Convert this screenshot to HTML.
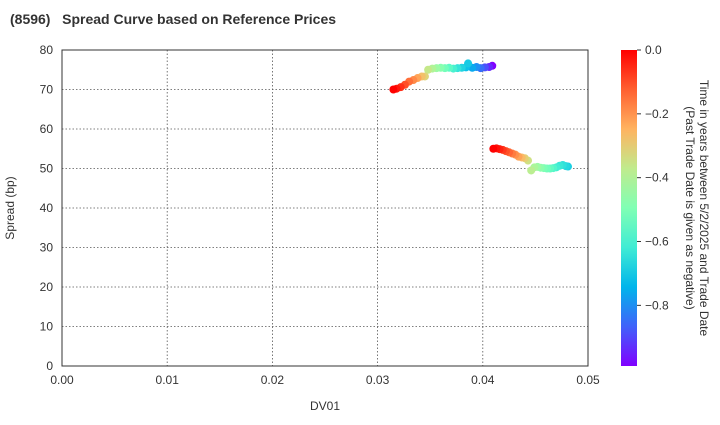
<!DOCTYPE html>
<html><head><meta charset="utf-8"><style>
body{margin:0;background:#fff;font-family:"Liberation Sans",Arial,sans-serif}
svg text{font-family:"Liberation Sans",Arial,sans-serif;fill:#333}
</style></head><body>
<svg id="c" width="720" height="420" xmlns="http://www.w3.org/2000/svg">
<defs><linearGradient id="cb" x1="0" y1="1" x2="0" y2="0">
<stop offset="0" stop-color="#8000ff"/><stop offset="0.125" stop-color="#4062fa"/><stop offset="0.25" stop-color="#00b5eb"/><stop offset="0.375" stop-color="#40ecd4"/><stop offset="0.5" stop-color="#80ffb4"/><stop offset="0.625" stop-color="#c0eb8d"/><stop offset="0.75" stop-color="#ffb360"/><stop offset="0.875" stop-color="#ff6030"/><stop offset="1" stop-color="#ff0000"/></linearGradient></defs>
<text x="10" y="24" font-size="14" font-weight="bold">(8596)&#160;&#160;&#160;Spread Curve based on Reference Prices</text>
<g id="grid"></g>
<rect x="62" y="50" width="526" height="316" fill="none" stroke="#333"/>
<g id="pts"></g>
<text x="325" y="410" font-size="12" text-anchor="middle">DV01</text>
<text transform="translate(14,208) rotate(-90)" font-size="12" text-anchor="middle">Spread (bp)</text>
<rect x="621" y="50" width="16" height="316" fill="url(#cb)"/>
<g id="cbt"></g>
<text transform="translate(700,208) rotate(90)" font-size="12" text-anchor="middle">Time in years between 5/2/2025 and Trade Date</text>
<text transform="translate(686,208) rotate(90)" font-size="12" text-anchor="middle">(Past Trade Date is given as negative)</text>
</svg>
<script>
const xTicks=[0,0.01,0.02,0.03,0.04,0.05];
const xTickLabels=["0.00","0.01","0.02","0.03","0.04","0.05"];
const yTicks=[0,10,20,30,40,50,60,70,80];
const cTicks=[0,-0.2,-0.4,-0.6,-0.8];
const cTickLabels=["0.0","−0.2","−0.4","−0.6","−0.8"];
const dv=[0.0315,0.0318,0.0322,0.0326,0.0330,0.0334,0.0338,0.0342,0.0345,0.0348,0.0352,0.0356,0.0360,0.0364,0.0368,0.0372,0.0376,0.0380,0.0384,0.0386,0.0390,0.0394,0.0398,0.0402,0.0406,0.0409,
0.0410,0.0413,0.0416,0.0419,0.0422,0.0425,0.0428,0.0431,0.0434,0.0437,0.0440,0.0443,0.0446,0.0449,0.0452,0.0455,0.0458,0.0461,0.0464,0.0467,0.0470,0.0473,0.0476,0.0479,0.0481];
const spread=[70,70.2,70.6,71.2,72,72.4,72.9,73.3,73.3,75,75.3,75.4,75.5,75.4,75.5,75.3,75.4,75.5,75.6,76.6,75.5,75.7,75.4,75.6,75.7,76,
55,55.1,54.9,54.7,54.4,54.1,53.8,53.5,53,52.8,52.6,52,49.5,50.3,50.4,50.2,50.1,50,50,50.1,50.3,50.7,50.9,50.6,50.5];
const tval=[0,-0.03,-0.06,-0.1,-0.14,-0.18,-0.22,-0.27,-0.31,-0.36,-0.4,-0.44,-0.48,-0.52,-0.56,-0.6,-0.64,-0.68,-0.72,-0.7,-0.76,-0.8,-0.85,-0.89,-0.94,-0.99,
0,-0.02,-0.04,-0.07,-0.1,-0.13,-0.16,-0.19,-0.22,-0.26,-0.3,-0.34,-0.38,-0.41,-0.44,-0.47,-0.5,-0.52,-0.55,-0.58,-0.61,-0.63,-0.65,-0.67,-0.69];
const tMin=-0.99;
const X=v=>62+v/0.05*526, Y=v=>366-v/80*316, CY=v=>50+(v/tMin)*316;
const NS="http://www.w3.org/2000/svg";
function mk(tag,attrs,parent){const e=document.createElementNS(NS,tag);for(const k in attrs)e.setAttribute(k,attrs[k]);parent.appendChild(e);return e;}
const grid=document.getElementById('grid'),svg=document.getElementById('c');
xTicks.forEach((v,i)=>{
 const l=mk('line',{x1:X(v),x2:X(v),y1:50,y2:366,stroke:'#555','stroke-dasharray':'1.5,2','stroke-width':0.8},grid);
 
 
 const t=mk('text',{x:X(v),y:384,'font-size':12,'text-anchor':'middle'},svg);t.textContent=xTickLabels[i];
 
 
});
yTicks.forEach(v=>{
 const l=mk('line',{x1:62,x2:588,y1:Y(v),y2:Y(v),stroke:'#555','stroke-dasharray':'1.5,2','stroke-width':0.8},grid);
 
 
 const t=mk('text',{x:53,y:Y(v)+4,'font-size':12,'text-anchor':'end'},svg);t.textContent=v;
 
 
});
cTicks.forEach((v,i)=>{
 mk('line',{x1:637,x2:641,y1:CY(v),y2:CY(v),stroke:'#333'},svg);
 const t=mk('text',{x:645,y:CY(v)+4,'font-size':12},svg);t.textContent=cTickLabels[i];
 
 
});
function rainbow(x){const r=Math.min(1,Math.abs(2*x-0.5)),g=Math.sin(Math.PI*x),b=Math.cos(Math.PI*x/2);
 return `rgb(${Math.round(r*255)},${Math.round(g*255)},${Math.round(b*255)})`;}
const pts=document.getElementById('pts');
const order=dv.map((_,i)=>i).sort((a,b)=>tval[a]-tval[b]);
order.forEach(i=>{
 const c=mk('circle',{cx:X(dv[i]),cy:Y(spread[i]),r:4,fill:rainbow(1-tval[i]/tMin)},pts);
 
 
});
</script>
</body></html>
